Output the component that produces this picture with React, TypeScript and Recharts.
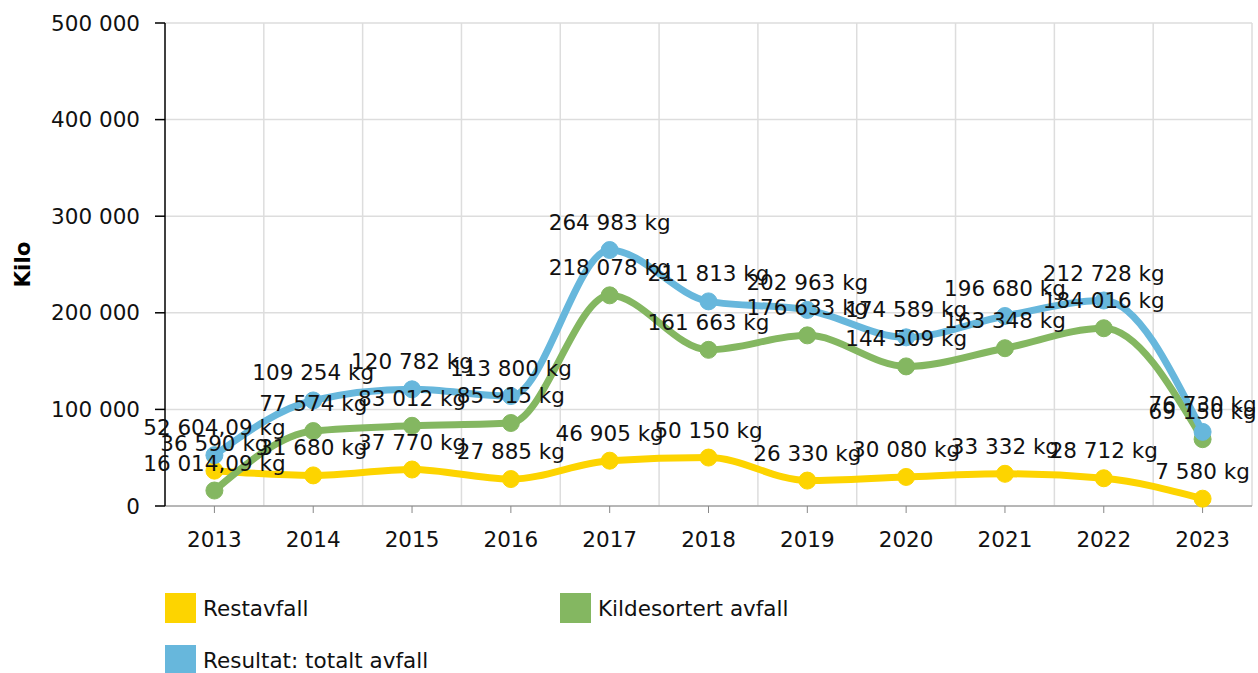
import { CartesianGrid, Line, LineChart, XAxis, YAxis, LabelList } from "recharts";

const years = [2013, 2014, 2015, 2016, 2017, 2018, 2019, 2020, 2021, 2022, 2023];
const restavfall = [36590, 31680, 37770, 27885, 46905, 50150, 26330, 30080, 33332, 28712, 7580];
const kildesortert = [16014.09, 77574, 83012, 85915, 218078, 161663, 176633, 144509, 163348, 184016, 69150];
const totalt = [52604.09, 109254, 120782, 113800, 264983, 211813, 202963, 174589, 196680, 212728, 76730];
const yTicks = [0, 100000, 200000, 300000, 400000, 500000];

const data = years.map((year, i) => ({
  year,
  rest: restavfall[i],
  kilde: kildesortert[i],
  total: totalt[i],
}));

const gridX = years.map((y) => y + 0.5);

const FONT = "'DejaVu Sans', Verdana, sans-serif";
const FS = 21.5;

function groupThousands(n: number, sep = " ") {
  const neg = n < 0;
  const abs = Math.abs(n);
  const isInt = Number.isInteger(abs);
  const str = isInt ? String(abs) : abs.toFixed(2);
  const [intPart, dec] = str.split(".");
  const grouped = intPart.replace(/\B(?=(\d{3})+(?!\d))/g, sep);
  return (neg ? "-" : "") + grouped + (dec ? "," + dec : "");
}

const kg = (v: any) => groupThousands(Number(v)) + " kg";

const series = [
  { key: "rest", name: "Restavfall", color: "#FDD400" },
  { key: "kilde", name: "Kildesortert avfall", color: "#84B761" },
  { key: "total", name: "Resultat: totalt avfall", color: "#67B7DC" },
];

export default function App() {
  return (
    <div
      style={{
        position: "absolute",
        left: 0,
        top: 0,
        width: 1258,
        height: 673,
        background: "#fff",
        fontFamily: FONT,
      }}
    >
      <LineChart
        width={1258}
        height={580}
        data={data}
        margin={{ top: 23, right: 6, left: 0, bottom: 0 }}
        style={{ fontFamily: FONT }}
      >
        <CartesianGrid stroke="#dddddd" strokeWidth={1.5} verticalValues={gridX} />
        <XAxis
          dataKey="year"
          type="number"
          domain={[2012.5, 2023.5]}
          ticks={years}
          allowDataOverflow
          height={74}
          tickSize={7}
          tickMargin={19}
          stroke="#888"
          tick={{ fill: "#111", fontSize: FS }}
          tickFormatter={(v) => String(v)}
        />
        <YAxis
          width={165}
          domain={[0, 500000]}
          ticks={yTicks}
          tickSize={10}
          tickMargin={15}
          stroke="#000"
          strokeWidth={1.5}
          tick={{ fill: "#111", fontSize: FS }}
          tickFormatter={(v) => groupThousands(Number(v))}
          label={{
            value: "Kilo",
            angle: -90,
            position: "insideLeft",
            offset: 22,
            style: { textAnchor: "middle", fontWeight: "bold", fontSize: FS, fill: "#000" },
          }}
        />
        {series.map((s) => (
          <Line
            key={s.key}
            dataKey={s.key}
            name={s.name}
            type="monotone"
            stroke={s.color}
            strokeWidth={7}
            dot={{ r: 8.5, fill: s.color, stroke: s.color, strokeWidth: 1 }}
            activeDot={false}
            isAnimationActive={false}
          >
            <LabelList
              dataKey={s.key}
              position="top"
              offset={20}
              formatter={kg}
              style={{ fill: "#111", fontSize: FS }}
            />
          </Line>
        ))}
      </LineChart>
      {[
        { ...series[0], left: 165, top: 593 },
        { ...series[1], left: 560, top: 593 },
        { ...series[2], left: 165, top: 645 },
      ].map((item) => (
        <div
          key={item.key}
          style={{
            position: "absolute",
            left: item.left,
            top: item.top,
            display: "flex",
            alignItems: "center",
            height: 30,
            fontSize: FS,
            color: "#111",
          }}
        >
          <span style={{ display: "inline-block", width: 31, height: 30, background: item.color, marginRight: 7 }} />
          <span>{item.name}</span>
        </div>
      ))}
    </div>
  );
}
